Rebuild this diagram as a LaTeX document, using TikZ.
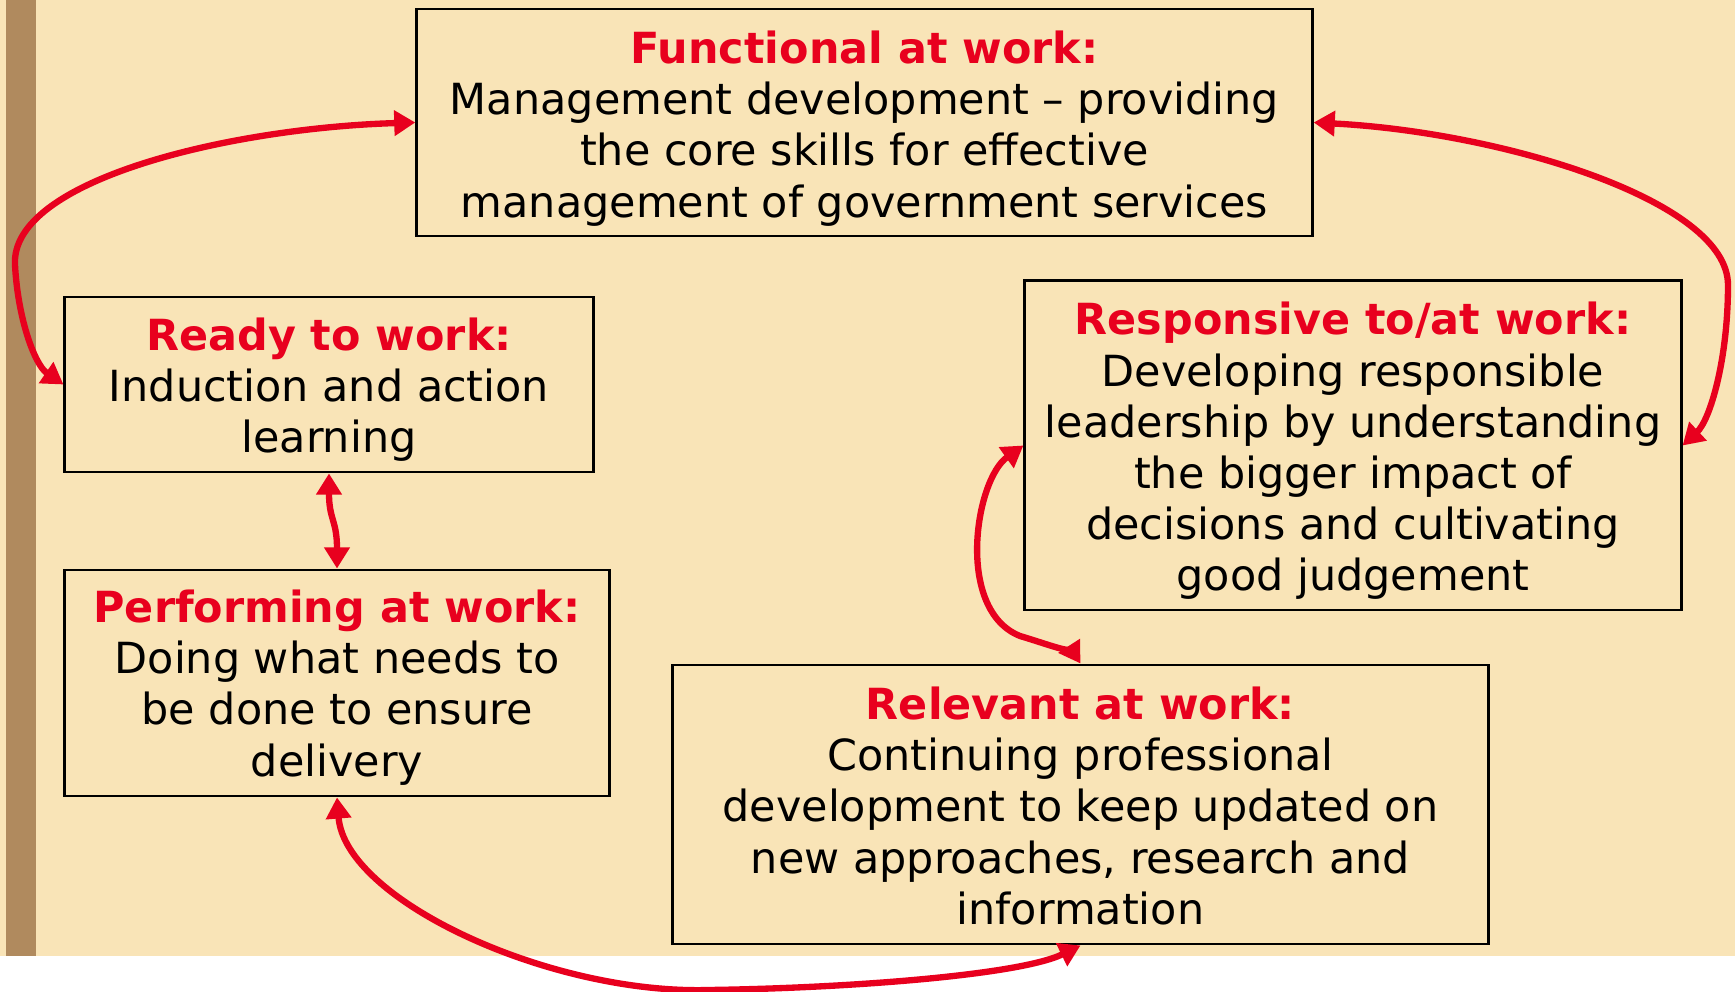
\documentclass[tikz,border=0pt]{standalone}
\usepackage{fontspec}
\setmainfont{DejaVu Sans}
\usetikzlibrary{arrows.meta}
\definecolor{bg}{HTML}{F9E4B7}
\definecolor{stripc}{HTML}{B08A5E}
\definecolor{redc}{HTML}{E8001E}
\begin{document}
\begin{tikzpicture}[x=0.01cm,y=-0.01cm,
  box/.style={draw=black,line width=0.8pt,inner sep=0pt},
  txt/.style={align=center,inner sep=0pt,
    font=\fontsize{12.2}{14.55}\selectfont},
  link/.style={draw=redc,line width=1.8pt,
    {Triangle[length=6pt,width=7pt]}-{Triangle[length=6pt,width=7pt]}}]
\fill[white] (0,0) rectangle (1735,992);
\useasboundingbox (0,0) rectangle (1735,992);
\fill[bg] (0,0) rectangle (1735,956);
\fill[stripc] (6,0) rectangle (36,956);

\node[box,minimum width=8.95cm,minimum height=2.27cm] (fun) at (864.5,122.5) {};
\node[txt] (funT) at ([yshift=-0.06cm]fun.center)
  {\textcolor{redc}{\bfseries Functional at work:}\\Management development – providing\\the core skills for effective\\management of government services};
\node[box,minimum width=5.28cm,minimum height=1.75cm] (ready) at (329,384.5) {};
\node[txt] (readyT) at ([yshift=-0.055cm]ready.center)
  {\textcolor{redc}{\bfseries Ready to work:}\\Induction and action\\learning};
\node[box,minimum width=5.44cm,minimum height=2.26cm] (perf) at (337,683) {};
\node[txt] (perfT) at ([yshift=-0.045cm]perf.center)
  {\textcolor{redc}{\bfseries Performing at work:}\\Doing what needs to\\be done to ensure\\delivery};
\node[box,minimum width=6.56cm,minimum height=3.29cm] (resp) at (1353,445.5) {};
\node[txt] (respT) at ([yshift=-0.055cm]resp.center)
  {\textcolor{redc}{\bfseries Responsive to/at work:}\\Developing responsible\\leadership by understanding\\the bigger impact of\\decisions and cultivating\\good judgement};
\node[box,minimum width=8.15cm,minimum height=2.79cm] (rel) at (1080.5,804.5) {};
\node[txt] (relT) at ([yshift=-0.015cm]rel.center)
  {\textcolor{redc}{\bfseries Relevant at work:}\\Continuing professional\\development to keep updated on\\new approaches, research and\\information};

\coordinate (l1) at (15,265);
\coordinate (r1) at (1728,285);
\coordinate (m1) at (1020,636);
\coordinate (b1) at (710,990);

\draw[link] (fun.west) .. controls (230,128) and (10,180) .. (l1)
  .. controls (18,320) and (35,365) .. (ready.west);
\draw[link] (fun.east) .. controls (1500,132) and (1728,200) .. (r1)
  .. controls (1728,360) and (1710,420) .. (resp.east);
\draw[link] (ready.south) .. controls (329,520) and (337,520) .. (perf.north);
\draw[link] (resp.west) .. controls (975,480) and (955,610) .. (m1)
  .. controls (1050,645) and (1075,655) .. (rel.north);
\draw[link] (perf.south) .. controls (345,900) and (550,995) .. (b1)
  .. controls (850,988) and (1020,975) .. (rel.south);
\end{tikzpicture}
\end{document}
